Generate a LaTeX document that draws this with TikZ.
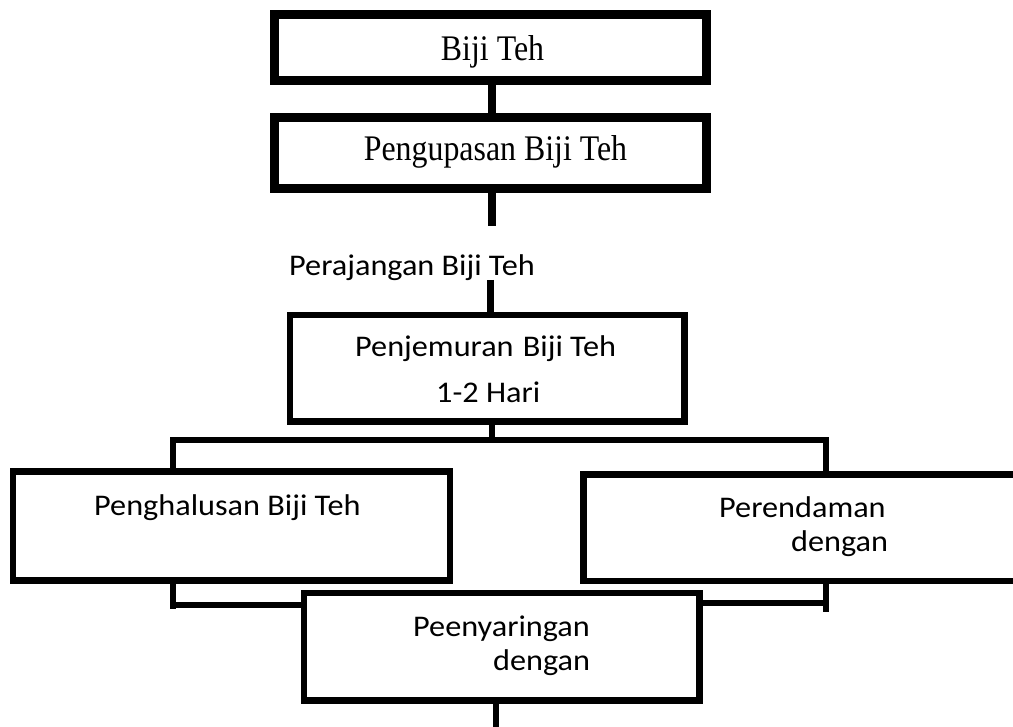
\documentclass[tikz,border=0pt]{standalone}
\usepackage{fontspec}
\newfontfamily\serifface[FakeStretch=0.885]{Liberation Serif}
\newfontfamily\sansface[FakeStretch=1.075]{Carlito}
\begin{document}
\begin{tikzpicture}[x=1pt,y=-1pt,
  heavybox/.style={draw=black,line width=9pt,fill=white,inner sep=0pt,rectangle},
  lightbox/.style={draw=black,line width=6.5pt,fill=white,inner sep=0pt,rectangle},
  heavyline/.style={draw=black,line width=8pt},
  lightline/.style={draw=black,line width=6pt},
  seriftext/.style={inner sep=0pt,font=\serifface\fontsize{36}{40}\selectfont},
  sanstext/.style={inner sep=0pt,anchor=base west,font=\sansface\fontsize{30}{36}\selectfont}]
\useasboundingbox (0,0) rectangle (1013,727);
\clip (0,0) rectangle (1013,727);
\fill[white] (0,0) rectangle (1013,727);

% boxes
\node[heavybox,minimum width=432pt,minimum height=66pt] (box1) at (490.5,47.5) {};
\node[heavybox,minimum width=432pt,minimum height=71pt] (box2) at (490.5,153) {};
\node[lightbox,minimum width=394.5pt,minimum height=106.5pt] (box3) at (487.25,368.25) {};
\node[lightbox,minimum width=437pt,minimum height=109pt] (box4) at (231.5,526) {};
\node[lightbox,minimum width=436.5pt,minimum height=106.5pt] (box5) at (801.75,527.75) {};
\node[lightbox,minimum width=395.5pt,minimum height=107.5pt] (box6) at (501.75,646.75) {};

% texts
\node[seriftext,anchor=base] (t1) at (492.5,61) {Biji Teh};
\node[seriftext,anchor=base] (t2) at (495.5,161) {Pengupasan Biji Teh};
\node[sanstext] (pera) at (289,276) {Perajangan Biji Teh};
\node[sanstext] (t3a) at (355,357) {Penjemuran\hspace{2pt} Biji Teh};
\node[sanstext] (t3b) at (436,403) {1-2 Hari};
\node[sanstext] (t4) at (94,515) {Penghalusan Biji Teh};
\node[sanstext] (t5a) at (719,517) {Perendaman};
\node[sanstext] (t5b) at (791,551) {dengan};
\node[sanstext] (t6a) at (413,636) {Peenyaringan};
\node[sanstext] (t6b) at (493,670) {dengan};

% free ends
\coordinate (e2) at (492,226);
\coordinate (p3) at (490,280);
\coordinate (busL) at (173,440);
\coordinate (busR) at (825.5,440);
\coordinate (lowL) at (173,609);
\coordinate (lowR) at (825.5,612);
\coordinate (endB) at (496,735);

% connectors
\draw[heavyline] (box1.south -| e2) -- (box2.north -| e2);
\draw[heavyline] (box2.south -| e2) -- (e2);
\draw[draw=black,line width=7pt] (p3) -- (p3 |- box3.north);
\draw[lightline] (box3.south -| 492,0) -- (492,440);
\draw[lightline] (box4.north -| busL) -- (busL) -- (busR) -- (box5.north -| busR);
\draw[lightline] (box4.south -| lowL) -- (lowL);
\draw[lightline] (173,604.5) -- (box6.west |- 0,604.5);
\draw[lightline] (box5.south -| lowR) -- (lowR);
\draw[lightline] (box6.east |- 0,602.5) -- (825.5,602.5);
\draw[lightline] (box6.south -| endB) -- (endB);
\end{tikzpicture}
\end{document}
